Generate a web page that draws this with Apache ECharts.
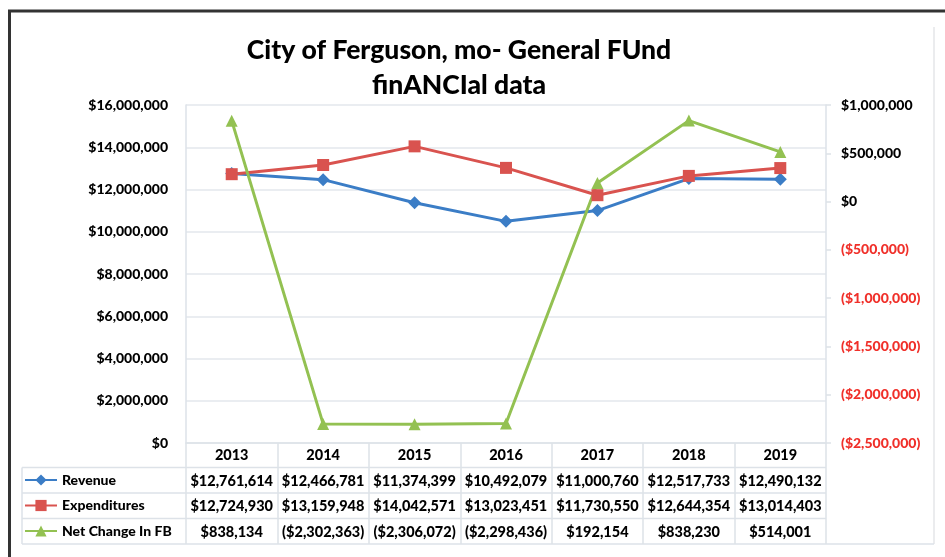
<!DOCTYPE html>
<html>
<head>
<meta charset="utf-8">
<script src="https://cdn.jsdelivr.net/npm/echarts@6/dist/echarts.min.js"></script>
<style>
html,body{margin:0;padding:0;background:#fff;}
#chart{width:945px;height:557px;}
</style>
</head>
<body>
<div id="chart"></div>
<script>
const years = ['2013','2014','2015','2016','2017','2018','2019'];
const revenue = [12761614, 12466781, 11374399, 10492079, 11000760, 12517733, 12490132];
const expenditures = [12724930, 13159948, 14042571, 13023451, 11730550, 12644354, 13014403];
const netChange = [838134, -2302363, -2306072, -2298436, 192154, 838230, 514001];
const seriesNames = ['Revenue', 'Expenditures', 'Net Change In FB'];
const titleLines = ['City of Ferguson, mo- General FUnd', 'finANCIal data'];

const FONT = 'Lato';
const W = 900;
function money(v) {
  const s = '$' + Math.abs(v).toLocaleString('en-US');
  return v < 0 ? '(' + s + ')' : s;
}

const chart = echarts.init(document.getElementById('chart'));
const gridL = 186, gridR = 826, gridT = 105, gridB = 443;
const tableRows = [467.5, 493, 518.5, 544];
const lineColor = '#dde2e8';

const graphics = [
  {type:'line', shape:{x1:8, y1:11, x2:945, y2:11}, style:{stroke:'#333', lineWidth:3}},
  {type:'line', shape:{x1:9.5, y1:10, x2:9.5, y2:557}, style:{stroke:'#333', lineWidth:3}},
  {type:'line', shape:{x1:934, y1:27, x2:934, y2:544}, style:{stroke:'#e4e6e8', lineWidth:1.5}},
  {type:'line', shape:{x1:22, y1:467.5, x2:22, y2:544}, style:{stroke:lineColor, lineWidth:1.5}},
  {type:'text', x:459, y:50, style:{text:titleLines[0], font:W + ' 26.5px ' + FONT, fill:'#000', align:'center', verticalAlign:'middle'}},
  {type:'text', x:459, y:85, style:{text:titleLines[1], font:W + ' 26.5px ' + FONT, fill:'#000', align:'center', verticalAlign:'middle'}}
];
tableRows.forEach((y, i) => {
  graphics.push({type:'line', shape:{x1:22, y1:y, x2:(i === 3 ? 934 : gridR), y2:y}, style:{stroke:lineColor, lineWidth:1.5}});
});

const option = {
  animation: false,
  backgroundColor: '#fff',
  grid: {left: gridL, right: 945 - gridR, top: gridT, bottom: 557 - gridB, containLabel: false},
  legend: {
    orient: 'vertical', left: 24, top: 473, padding: 0,
    itemWidth: 32, itemHeight: 14, itemGap: 11.5,
    textStyle: {fontFamily: FONT, fontWeight: W, fontSize: 14, color: '#000'},
    data: seriesNames
  },
  xAxis: {
    type: 'category', data: years, boundaryGap: true,
    axisLine: {lineStyle: {color: lineColor, width: 1.5}},
    axisTick: {show: true, length: 101, lineStyle: {color: lineColor, width: 1.5}},
    axisLabel: {
      interval: 0, margin: 0, lineHeight: 25.5, fontFamily: FONT, fontWeight: W, fontSize: 14.5, color: '#000',
      formatter: function (val, idx) {
        return [val, money(revenue[idx]), money(expenditures[idx]), money(netChange[idx])].join('\n');
      }
    }
  },
  yAxis: [
    {
      type: 'value', min: 0, max: 16000000, interval: 2000000,
      axisLine: {show: true, lineStyle: {color: lineColor, width: 1.5}},
      axisTick: {show: false},
      splitLine: {lineStyle: {color: '#e3e7ec', width: 1.5}},
      axisLabel: {margin: 18, fontFamily: FONT, fontWeight: W, fontSize: 14, color: '#000', formatter: money}
    },
    {
      type: 'value', min: -2500000, max: 1000000, interval: 500000, position: 'right',
      axisLine: {show: true, lineStyle: {color: lineColor, width: 1.5}},
      axisTick: {show: true, length: 5, lineStyle: {color: lineColor, width: 1.5}},
      splitLine: {show: false},
      axisLabel: {
        margin: 15, fontFamily: FONT, fontWeight: W, fontSize: 14,
        color: function (v) { return Number(v) < 0 ? '#f0302a' : '#000'; },
        formatter: money
      }
    }
  ],
  series: [
    {name: seriesNames[0], type: 'line', yAxisIndex: 0, data: revenue, symbol: 'diamond', symbolSize: 13,
      lineStyle: {width: 3, color: '#3b7dc6'}, itemStyle: {color: '#3b7dc6'}},
    {name: seriesNames[1], type: 'line', yAxisIndex: 0, data: expenditures, symbol: 'rect', symbolSize: 12,
      lineStyle: {width: 3, color: '#d9534f'}, itemStyle: {color: '#d9534f'}},
    {name: seriesNames[2], type: 'line', yAxisIndex: 1, data: netChange, symbol: 'triangle', symbolSize: 12,
      lineStyle: {width: 3, color: '#93c152'}, itemStyle: {color: '#93c152'}}
  ],
  graphic: graphics
};
chart.setOption(option);
</script>
</body>
</html>
